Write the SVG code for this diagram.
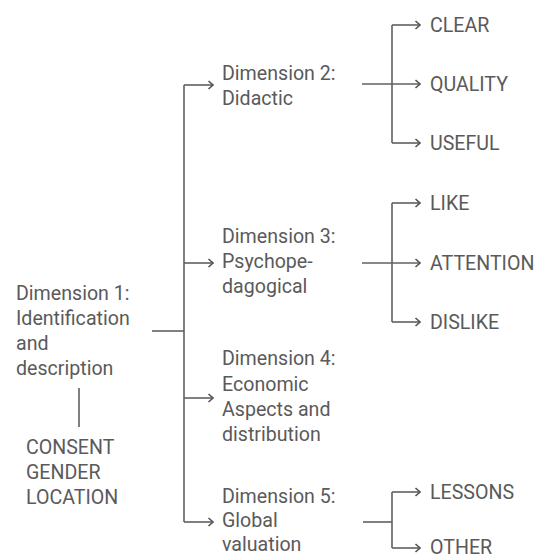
<svg xmlns="http://www.w3.org/2000/svg" width="540" height="556" viewBox="0 0 540 556">
<defs>
<marker id="ah" viewBox="0 0 10 10" refX="9" refY="5" markerWidth="10" markerHeight="10" markerUnits="userSpaceOnUse" orient="auto">
<path d="M4.5,1 L9,5 L4.5,9" fill="none" stroke="#555" stroke-width="1.6"/>
</marker>
<style>
text{font-family:Roboto,"Liberation Sans",sans-serif;font-size:19.6px;fill:#5a5a5a}
.c{fill:none;stroke:#606060;stroke-width:1.6}
</style>
</defs>
<rect width="540" height="556" fill="#fff"/>
<g id="connectors">
<path class="c" d="M152,331 H184"/>
<path class="c" d="M184,85 V522"/>
<path class="c" d="M184,85 H213" marker-end="url(#ah)"/>
<path class="c" d="M184,263 H213" marker-end="url(#ah)"/>
<path class="c" d="M184,398 H213" marker-end="url(#ah)"/>
<path class="c" d="M184,522 H213" marker-end="url(#ah)"/>
<path class="c" d="M79,388 V427"/>
<path class="c" d="M362,84 H420" marker-end="url(#ah)"/>
<path class="c" d="M392,25 V143"/>
<path class="c" d="M392,25 H420" marker-end="url(#ah)"/>
<path class="c" d="M392,143 H420" marker-end="url(#ah)"/>
<path class="c" d="M362,263 H420" marker-end="url(#ah)"/>
<path class="c" d="M392,203 V322"/>
<path class="c" d="M392,203 H420" marker-end="url(#ah)"/>
<path class="c" d="M392,322 H420" marker-end="url(#ah)"/>
<path class="c" d="M363,522 H392"/>
<path class="c" d="M392,492 V548"/>
<path class="c" d="M392,492 H420" marker-end="url(#ah)"/>
<path class="c" d="M392,548 H420" marker-end="url(#ah)"/>
</g>
<g id="dim1"><text x="16" y="300">Dimension 1:</text><text x="16" y="325">Identification</text><text x="16" y="350">and</text><text x="16" y="375">description</text></g>
<g id="dim1-items"><text x="26" y="454">CONSENT</text><text x="26" y="479">GENDER</text><text x="26" y="504">LOCATION</text></g>
<g id="dim2"><text x="222" y="80">Dimension 2:</text><text x="222" y="105">Didactic</text></g>
<g id="dim3"><text x="222" y="243">Dimension 3:</text><text x="222" y="268">Psychope-</text><text x="222" y="293">dagogical</text></g>
<g id="dim4"><text x="222" y="365">Dimension 4:</text><text x="222" y="391">Economic</text><text x="222" y="416">Aspects and</text><text x="222" y="441">distribution</text></g>
<g id="dim5"><text x="222" y="503">Dimension 5:</text><text x="222" y="527">Global</text><text x="222" y="551">valuation</text></g>
<g id="clear"><text x="430" y="32">CLEAR</text></g>
<g id="quality"><text x="430" y="91">QUALITY</text></g>
<g id="useful"><text x="430" y="150">USEFUL</text></g>
<g id="like"><text x="430" y="210">LIKE</text></g>
<g id="attention"><text x="430" y="270">ATTENTION</text></g>
<g id="dislike"><text x="430" y="329">DISLIKE</text></g>
<g id="lessons"><text x="430" y="499">LESSONS</text></g>
<g id="other"><text x="430" y="554">OTHER</text></g>
</svg>
